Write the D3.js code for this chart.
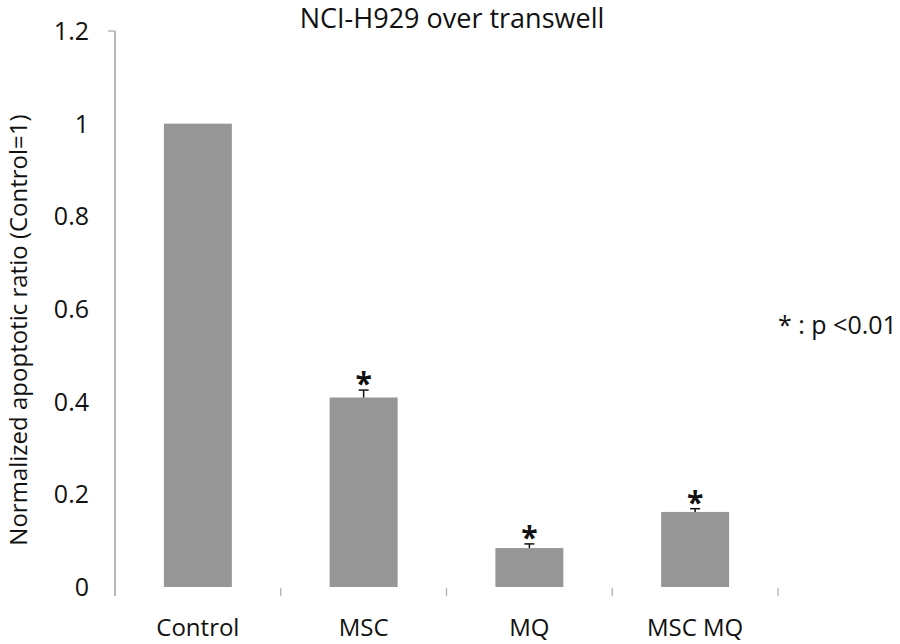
<!DOCTYPE html>
<html>
<head>
<meta charset="utf-8">
<script src="https://cdn.jsdelivr.net/npm/d3@7"></script>
<style>
  body { margin: 0; background: #fff; }
  text { font-family: "Open Sans", Lato, sans-serif; fill: #111; }
</style>
</head>
<body>
<svg id="chart"></svg>
<script>
const categories = ["Control", "MSC", "MQ", "MSC MQ"];
const values = [1.0, 0.409, 0.084, 0.162];
const errors = [0, 0.016, 0.009, 0.007];
const marked = [false, true, true, true];
const yTicks = [0, 0.2, 0.4, 0.6, 0.8, 1, 1.2];

const width = 900;
const height = 644;
const margin = { top: 31, right: 122, bottom: 57, left: 115 };

const svg = d3.select("#chart").attr("width", width).attr("height", height);

const x = d3.scaleBand()
  .domain(categories)
  .range([margin.left, width - margin.right])
  .padding(0);

const y = d3.scaleLinear()
  .domain([0, 1.2])
  .range([height - margin.bottom, margin.top]);

const barW = x.bandwidth() * 0.41;

// y axis line (extends a bit below zero like the original)
svg.append("line")
  .attr("x1", margin.left).attr("x2", margin.left)
  .attr("y1", y(1.2)).attr("y2", y(0) + 9)
  .attr("stroke", "#b8b8b8").attr("stroke-width", 2);

// only top tick is drawn
svg.append("line")
  .attr("x1", margin.left - 7).attr("x2", margin.left)
  .attr("y1", y(1.2)).attr("y2", y(1.2))
  .attr("stroke", "#b8b8b8").attr("stroke-width", 1.5);

svg.selectAll(".ytick")
  .data(yTicks)
  .enter()
  .append("text")
  .attr("class", "ytick")
  .attr("x", margin.left - 26)
  .attr("y", (d) => y(d))
  .attr("dy", "0.36em")
  .attr("text-anchor", "end")
  .attr("font-size", 25)
  .text((d) => d3.format("")(d));

// category separator ticks
svg.selectAll(".xtick")
  .data(categories)
  .enter()
  .append("line")
  .attr("class", "xtick")
  .attr("x1", (d) => x(d) + x.bandwidth())
  .attr("x2", (d) => x(d) + x.bandwidth())
  .attr("y1", y(0) + 1)
  .attr("y2", y(0) + 9)
  .attr("stroke", "#b8b8b8").attr("stroke-width", 1.5);

// bars
svg.selectAll(".bar")
  .data(categories)
  .enter()
  .append("rect")
  .attr("class", "bar")
  .attr("x", (d) => x(d) + (x.bandwidth() - barW) / 2)
  .attr("width", barW)
  .attr("y", (d, i) => y(values[i]))
  .attr("height", (d, i) => y(0) - y(values[i]))
  .attr("fill", "#969696");

// error bars (upper only)
const err = svg.selectAll(".err")
  .data(categories.filter((d, i) => errors[i] > 0))
  .enter()
  .append("g")
  .attr("class", "err");

err.append("line")
  .attr("x1", (d) => x(d) + x.bandwidth() / 2)
  .attr("x2", (d) => x(d) + x.bandwidth() / 2)
  .attr("y1", (d) => y(values[categories.indexOf(d)]))
  .attr("y2", (d) => { const i = categories.indexOf(d); return y(values[i] + errors[i]); })
  .attr("stroke", "#111").attr("stroke-width", 1.5);

err.append("line")
  .attr("x1", (d) => x(d) + x.bandwidth() / 2 - 5)
  .attr("x2", (d) => x(d) + x.bandwidth() / 2 + 5)
  .attr("y1", (d) => { const i = categories.indexOf(d); return y(values[i] + errors[i]); })
  .attr("y2", (d) => { const i = categories.indexOf(d); return y(values[i] + errors[i]); })
  .attr("stroke", "#111").attr("stroke-width", 1.5);

// significance asterisks
svg.selectAll(".star")
  .data(categories.filter((d, i) => marked[i]))
  .enter()
  .append("text")
  .attr("class", "star")
  .attr("x", (d) => x(d) + x.bandwidth() / 2)
  .attr("y", (d) => { const i = categories.indexOf(d); return y(values[i] + errors[i]) + 4; })
  .attr("text-anchor", "middle")
  .attr("font-size", 30)
  .attr("font-weight", "bold")
  .text("*");

// category labels
svg.selectAll(".xlabel")
  .data(categories)
  .enter()
  .append("text")
  .attr("class", "xlabel")
  .attr("x", (d) => x(d) + x.bandwidth() / 2)
  .attr("y", 636)
  .attr("text-anchor", "middle")
  .attr("font-size", 24)
  .text((d) => d);

// title
svg.append("text")
  .attr("x", 452)
  .attr("y", 28)
  .attr("text-anchor", "middle")
  .attr("font-size", 27)
  .text("NCI-H929 over transwell");

// y label
svg.append("text")
  .attr("transform", "translate(27, 330) rotate(-90)")
  .attr("text-anchor", "middle")
  .attr("font-size", 24)
  .text("Normalized apoptotic ratio (Control=1)");

// note
svg.append("text")
  .attr("x", 778)
  .attr("y", 334)
  .attr("font-size", 25)
  .text("* : p <0.01");
</script>
</body>
</html>
